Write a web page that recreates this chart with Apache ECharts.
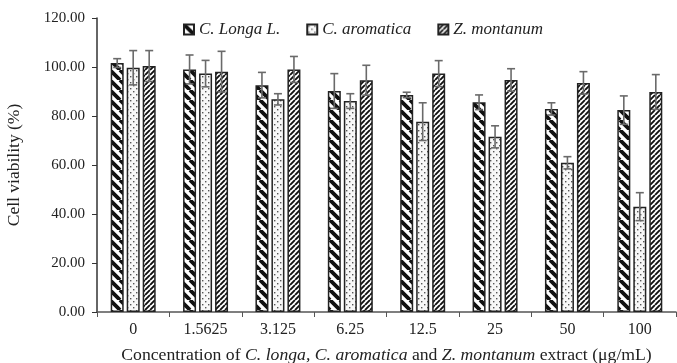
<!DOCTYPE html>
<html>
<head>
<meta charset="utf-8">
<script src="https://cdn.jsdelivr.net/npm/echarts@6/dist/echarts.min.js"></script>
<style>
  html, body { margin: 0; padding: 0; background: #fff; }
  #chart { width: 677px; height: 363px; }
</style>
</head>
<body>
<div id="chart"></div>
<script>
// 数据
var categories = ["0", "1.5625", "3.125", "6.25", "12.5", "25", "50", "100"];
var longaVals = [101.6, 99.0, 92.6, 90.2, 88.6, 85.6, 82.9, 82.4];
var longaErr = [1.8, 5.9, 5.2, 7.1, 1.1, 3.0, 2.5, 5.8];
var aromaVals = [99.7, 97.3, 86.8, 86.1, 77.7, 71.5, 60.9, 43.0];
var aromaErr = [7.0, 5.4, 2.3, 3.0, 7.7, 4.5, 2.5, 5.7];
var montaVals = [100.4, 98.1, 99.0, 94.6, 97.3, 94.7, 93.5, 89.8];
var montaErr = [6.3, 8.3, 5.3, 6.1, 5.3, 4.6, 4.6, 7.1];
var yTicks = { min: 0, max: 120, interval: 20 };

var FONT = "Liberation Serif";

// 花纹填充
function stripes(size, lw, dir) {
  var c = document.createElement("canvas");
  c.width = size; c.height = size;
  var ctx = c.getContext("2d");
  ctx.fillStyle = "#fff";
  ctx.fillRect(0, 0, size, size);
  ctx.strokeStyle = "#111";
  ctx.lineWidth = lw;
  ctx.beginPath();
  for (var k = -1; k <= 1; k++) {
    if (dir === "\\") {
      ctx.moveTo(k * size, 0);
      ctx.lineTo(k * size + size, size);
    } else {
      ctx.moveTo(k * size, size);
      ctx.lineTo(k * size + size, 0);
    }
  }
  ctx.stroke();
  return c;
}
function dots() {
  var c = document.createElement("canvas");
  c.width = 6; c.height = 6;
  var ctx = c.getContext("2d");
  ctx.fillStyle = "#f7f7f7";
  ctx.fillRect(0, 0, 6, 6);
  ctx.fillStyle = "#555";
  ctx.fillRect(1, 1, 1.4, 1.4);
  ctx.fillRect(4, 4, 1.4, 1.4);
  return c;
}
var patLonga = { image: stripes(10, 3.8, "\\"), repeat: "repeat" };
var patAroma = { image: dots(), repeat: "repeat" };
var patMonta = { image: stripes(5, 1.9, "/"), repeat: "repeat" };

var barW = 13;
var offsets = [-16, 0, 16];

function errSeries(vals, errs, k) {
  var data = vals.map(function (v, i) { return [i, v, errs[i]]; });
  return {
    type: "custom",
    z: 10,
    silent: true,
    data: data,
    renderItem: function (params, api) {
      var i = api.value(0);
      var v = api.value(1);
      var e = api.value(2);
      var top = api.coord([i, v + e]);
      var bot = api.coord([i, v - e]);
      var x = top[0] + offsets[k];
      var style = { stroke: "#6a6a6a", lineWidth: 1.6 };
      return {
        type: "group",
        children: [
          { type: "line", shape: { x1: x, y1: top[1], x2: x, y2: bot[1] }, style: style },
          { type: "line", shape: { x1: x - 4, y1: top[1], x2: x + 4, y2: top[1] }, style: style },
          { type: "line", shape: { x1: x - 4, y1: bot[1], x2: x + 4, y2: bot[1] }, style: style }
        ]
      };
    }
  };
}

function barSeries(name, vals, pat) {
  return {
    name: name,
    type: "bar",
    data: vals,
    barWidth: barW,
    barGap: "23%",
    itemStyle: { color: pat, borderColor: "#222", borderWidth: 1.5 }
  };
}

var myChart = echarts.init(document.getElementById("chart"));
myChart.setOption({
  animation: false,
  textStyle: { fontFamily: FONT, color: "#222" },
  grid: { left: 97, right: 1, top: 18, bottom: 51, containLabel: false, outerBoundsMode: "none" },
  legend: {
    top: 16,
    left: 178,
    itemWidth: 10,
    itemHeight: 10,
    itemGap: 26,
    icon: "rect",
    textStyle: { fontFamily: FONT, fontStyle: "italic", fontSize: 17, color: "#222" },
    data: ["C. Longa L.", "C. aromatica", "Z. montanum"]
  },
  xAxis: {
    type: "category",
    data: categories,
    axisLine: { lineStyle: { color: "#555", width: 1.5 } },
    axisTick: { show: true, length: 5, lineStyle: { color: "#555" } },
    axisLabel: { fontFamily: FONT, fontSize: 16, color: "#222", margin: 10 },
    name: "Concentration of {i|C. longa, C. aromatica} and {i|Z. montanum} extract (μg/mL)",
    nameLocation: "middle",
    nameGap: 34,
    nameTextStyle: {
      fontFamily: FONT, fontSize: 17.7, color: "#222",
      rich: { i: { fontFamily: FONT, fontStyle: "italic", fontSize: 17.7, color: "#222" } }
    }
  },
  yAxis: {
    type: "value",
    min: yTicks.min,
    max: yTicks.max,
    interval: yTicks.interval,
    splitLine: { show: false },
    axisLine: { show: true, lineStyle: { color: "#333", width: 1.5 } },
    axisTick: { show: true, length: 5, lineStyle: { color: "#333" } },
    axisLabel: {
      fontFamily: FONT, fontSize: 15, color: "#222", margin: 12,
      formatter: function (v) { return v.toFixed(2); }
    },
    name: "Cell viability (%)",
    nameLocation: "middle",
    nameRotate: 90,
    nameGap: 74,
    nameTextStyle: { fontFamily: FONT, fontSize: 17.5, color: "#222" }
  },
  series: [
    barSeries("C. Longa L.", longaVals, patLonga),
    barSeries("C. aromatica", aromaVals, patAroma),
    barSeries("Z. montanum", montaVals, patMonta),
    errSeries(longaVals, longaErr, 0),
    errSeries(aromaVals, aromaErr, 1),
    errSeries(montaVals, montaErr, 2)
  ]
});
</script>
</body>
</html>
